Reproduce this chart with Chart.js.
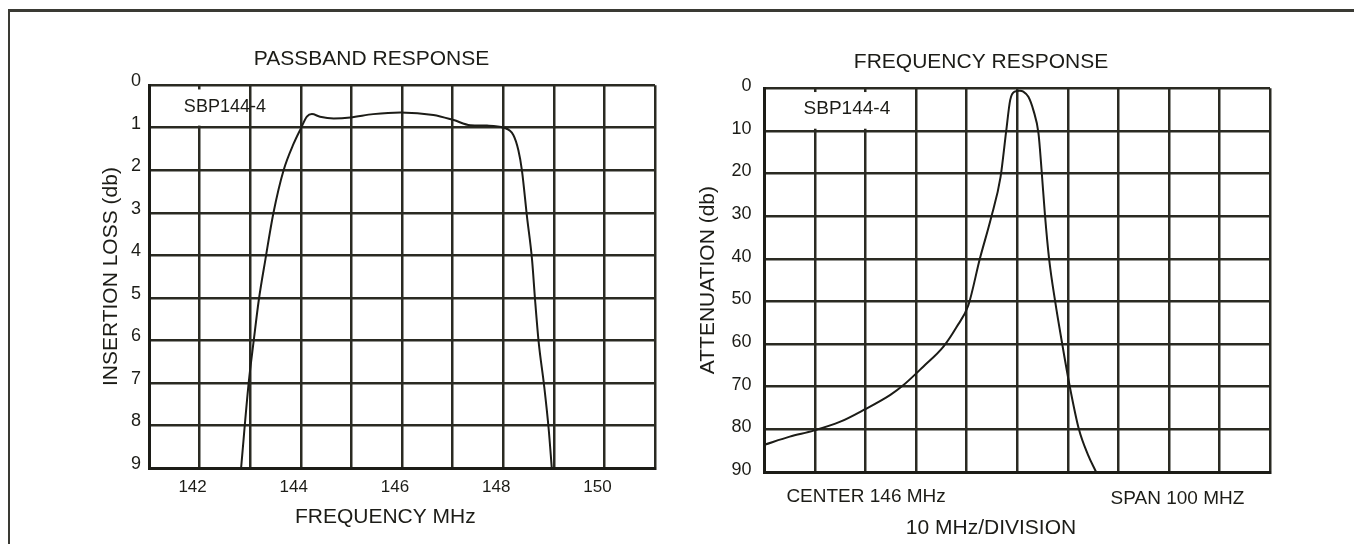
<!DOCTYPE html>
<html>
<head>
<meta charset="utf-8">
<title>SBP144-4 filter response</title>
<script src="https://cdn.jsdelivr.net/npm/chart.js@4.4.1/dist/chart.umd.min.js"></script>
<style>
  html, body { margin: 0; padding: 0; background: #fff; }
  #page { position: relative; width: 1354px; height: 544px; overflow: hidden; }
  #frame { position: absolute; left: 8px; top: 9px; right: 0; height: 600px;
           border-top: 3px solid #3a3a34; border-left: 2px solid #3a3a34; }
  canvas { position: absolute; top: 0; }
  #passbandChart { left: 0; }
  #responseChart { left: 680px; }
</style>
</head>
<body>
<div id="page">
  <div id="frame"></div>
  <canvas id="passbandChart" width="680" height="544"></canvas>
  <canvas id="responseChart" width="674" height="544"></canvas>
</div>
<script>
// passband response (insertion loss vs frequency)
const passbandMHz = [142.82, 142.97, 143.07, 143.17, 143.30, 143.46, 143.66, 143.86, 144.0, 144.12, 144.22,
    144.38, 144.65, 144.98, 145.43, 145.97, 146.62, 147.02, 147.35, 147.68, 148.01, 148.2, 148.3,
    148.37, 148.47, 148.57, 148.63, 148.70, 148.81, 148.90, 148.96];
const passbandLoss = [9.0, 7.0, 6.0, 5.05, 4.1, 3.0, 2.0, 1.37, 1.02, 0.74, 0.68,
    0.74, 0.78, 0.76, 0.68, 0.64, 0.70, 0.82, 0.94, 0.95, 1.0, 1.17, 1.53,
    2.0, 3.09, 4.1, 5.05, 6.03, 7.08, 8.1, 9.0];

// wide frequency response, center 146 MHz, 10 MHz/division
const spanMHz = [96, 101, 105.7, 111, 115.7, 120.9, 123.5, 127.4, 131.4, 134, 136.3, 138.6, 140.8,
    142.7, 143.8, 144.6, 145.5, 146.5, 147.2, 148.2, 149.2, 150.2, 150.8, 151.5, 152.3, 153.5,
    154.9, 156.4, 158.2, 160, 161.6];
const spanAtten = [83.6, 81.7, 80.3, 78.2, 75.4, 71.9, 69.6, 65.3, 60.6, 56, 51, 40, 30.5,
    20.8, 10.2, 2.8, 0.8, 0.6, 0.8, 2.0, 5.2, 10.6, 19, 30, 40, 50,
    60, 70, 80, 86, 90];

const lossTicks = [0, 9, 1];      // min, max, step
const attenTicks = [0, 90, 10];
const passbandRange = [141, 151, 1];
const spanRange = [96, 196, 10];

const ink = '#1c1c17';
Chart.defaults.font.family = '"Liberation Sans", Arial, Helvetica, sans-serif';
Chart.defaults.color = ink;

// free text placed in axis units (x) and either axis units or canvas px (y);
// "clear" blanks the grid behind a label, like the part-number box on the original
const notesPlugin = {
    id: 'notes',
    beforeDatasetsDraw(chart, args, opts) {
        const { ctx } = chart;
        const xs = chart.scales.x, ys = chart.scales.y;
        ctx.save();
        ctx.fillStyle = '#fff';
        (opts.items || []).filter(it => it.clear).forEach(it => {
            const [x0, x1, y0, y1] = it.clear;
            const l = xs.getPixelForValue(x0), r = xs.getPixelForValue(x1);
            const t = ys.getPixelForValue(y0), b = ys.getPixelForValue(y1);
            ctx.fillRect(l, t, r - l, b - t);
        });
        ctx.restore();
    },
    afterDraw(chart, args, opts) {
        const { ctx } = chart;
        const xs = chart.scales.x, ys = chart.scales.y;
        ctx.save();
        ctx.fillStyle = ink;
        ctx.textAlign = 'center';
        ctx.textBaseline = 'middle';
        (opts.items || []).forEach(item => {
            ctx.font = item.size + 'px "Liberation Sans", Arial, Helvetica, sans-serif';
            const px = xs.getPixelForValue(item.x);
            const py = item.y !== undefined ? ys.getPixelForValue(item.y) : item.top;
            ctx.fillText(item.text, px, py);
        });
        ctx.restore();
    }
};

function gridOpts() {
    return { color: '#2a2a22', lineWidth: 2.5, drawTicks: false };
}

function toPoints(xs, ys) {
    return xs.map((v, i) => ({ x: v, y: ys[i] }));
}

new Chart(document.getElementById('passbandChart'), {
    type: 'line',
    data: {
        datasets: [{
            data: toPoints(passbandMHz, passbandLoss),
            borderColor: ink,
            borderWidth: 2,
            pointRadius: 0,
            cubicInterpolationMode: 'monotone',
            fill: false
        }]
    },
    options: {
        responsive: false,
        animation: false,
        layout: { padding: { left: 88, right: 25, top: 47, bottom: 0 } },
        plugins: {
            legend: { display: false },
            tooltip: { enabled: false },
            title: {
                display: true,
                text: 'PASSBAND RESPONSE',
                font: { size: 21, weight: 'normal' },
                color: ink,
                padding: { top: 0, bottom: 13 }
            },
            notes: {
                items: [
                    { text: 'SBP144-4', x: 142.5, y: 0.52, size: 18, clear: [141.04, 142.95, 0.1, 0.95] },
                    { text: 'FREQUENCY MHz', x: 145.67, top: 517, size: 21 }
                ]
            }
        },
        scales: {
            x: {
                type: 'linear',
                min: passbandRange[0],
                max: passbandRange[1],
                afterFit: s => { s.height = 76; },
                ticks: {
                    stepSize: passbandRange[2],
                    autoSkip: false,
                    maxRotation: 0,
                    padding: 9,
                    labelOffset: -7,
                    font: { size: 17 },
                    callback: v => (v % 2 === 0 ? v : '')
                },
                grid: gridOpts(),
                border: { color: ink, width: 3 }
            },
            y: {
                min: lossTicks[0],
                max: lossTicks[1],
                reverse: true,
                afterFit: s => { s.width = 61; },
                ticks: { stepSize: lossTicks[2], padding: 8, labelOffset: -4, font: { size: 18 } },
                grid: gridOpts(),
                border: { color: ink, width: 3 },
                title: {
                    display: true,
                    text: 'INSERTION LOSS (db)',
                    font: { size: 21 },
                    padding: { top: 11, bottom: 0 }
                }
            }
        }
    },
    plugins: [notesPlugin]
});

new Chart(document.getElementById('responseChart'), {
    type: 'line',
    data: {
        datasets: [{
            data: toPoints(spanMHz, spanAtten),
            borderColor: ink,
            borderWidth: 2,
            pointRadius: 0,
            cubicInterpolationMode: 'monotone',
            fill: false
        }]
    },
    options: {
        responsive: false,
        animation: false,
        layout: { padding: { left: 12, right: 84, top: 50, bottom: 0 } },
        plugins: {
            legend: { display: false },
            tooltip: { enabled: false },
            title: {
                display: true,
                text: 'FREQUENCY RESPONSE',
                font: { size: 21, weight: 'normal' },
                color: ink,
                padding: { top: 0, bottom: 13 }
            },
            notes: {
                items: [
                    { text: 'SBP144-4', x: 112.3, y: 4.9, size: 19, clear: [96.4, 125.4, 0.9, 9.5] },
                    { text: 'CENTER 146 MHz', x: 116.1, top: 497, size: 19 },
                    { text: 'SPAN 100 MHZ', x: 177.7, top: 499, size: 19 },
                    { text: '10 MHz/DIVISION', x: 140.8, top: 528, size: 21 }
                ]
            }
        },
        scales: {
            x: {
                type: 'linear',
                min: spanRange[0],
                max: spanRange[1],
                afterFit: s => { s.height = 72; },
                ticks: { stepSize: spanRange[2], autoSkip: false, display: false },
                grid: gridOpts(),
                border: { color: ink, width: 3 }
            },
            y: {
                min: attenTicks[0],
                max: attenTicks[1],
                reverse: true,
                afterFit: s => { s.width = 72.5; },
                ticks: { stepSize: attenTicks[2], padding: 13, labelOffset: -2, font: { size: 18 } },
                grid: gridOpts(),
                border: { color: ink, width: 3 },
                title: {
                    display: true,
                    text: 'ATTENUATION (db)',
                    font: { size: 21 },
                    padding: { top: 4, bottom: 0 }
                }
            }
        }
    },
    plugins: [notesPlugin]
});
</script>
</body>
</html>
